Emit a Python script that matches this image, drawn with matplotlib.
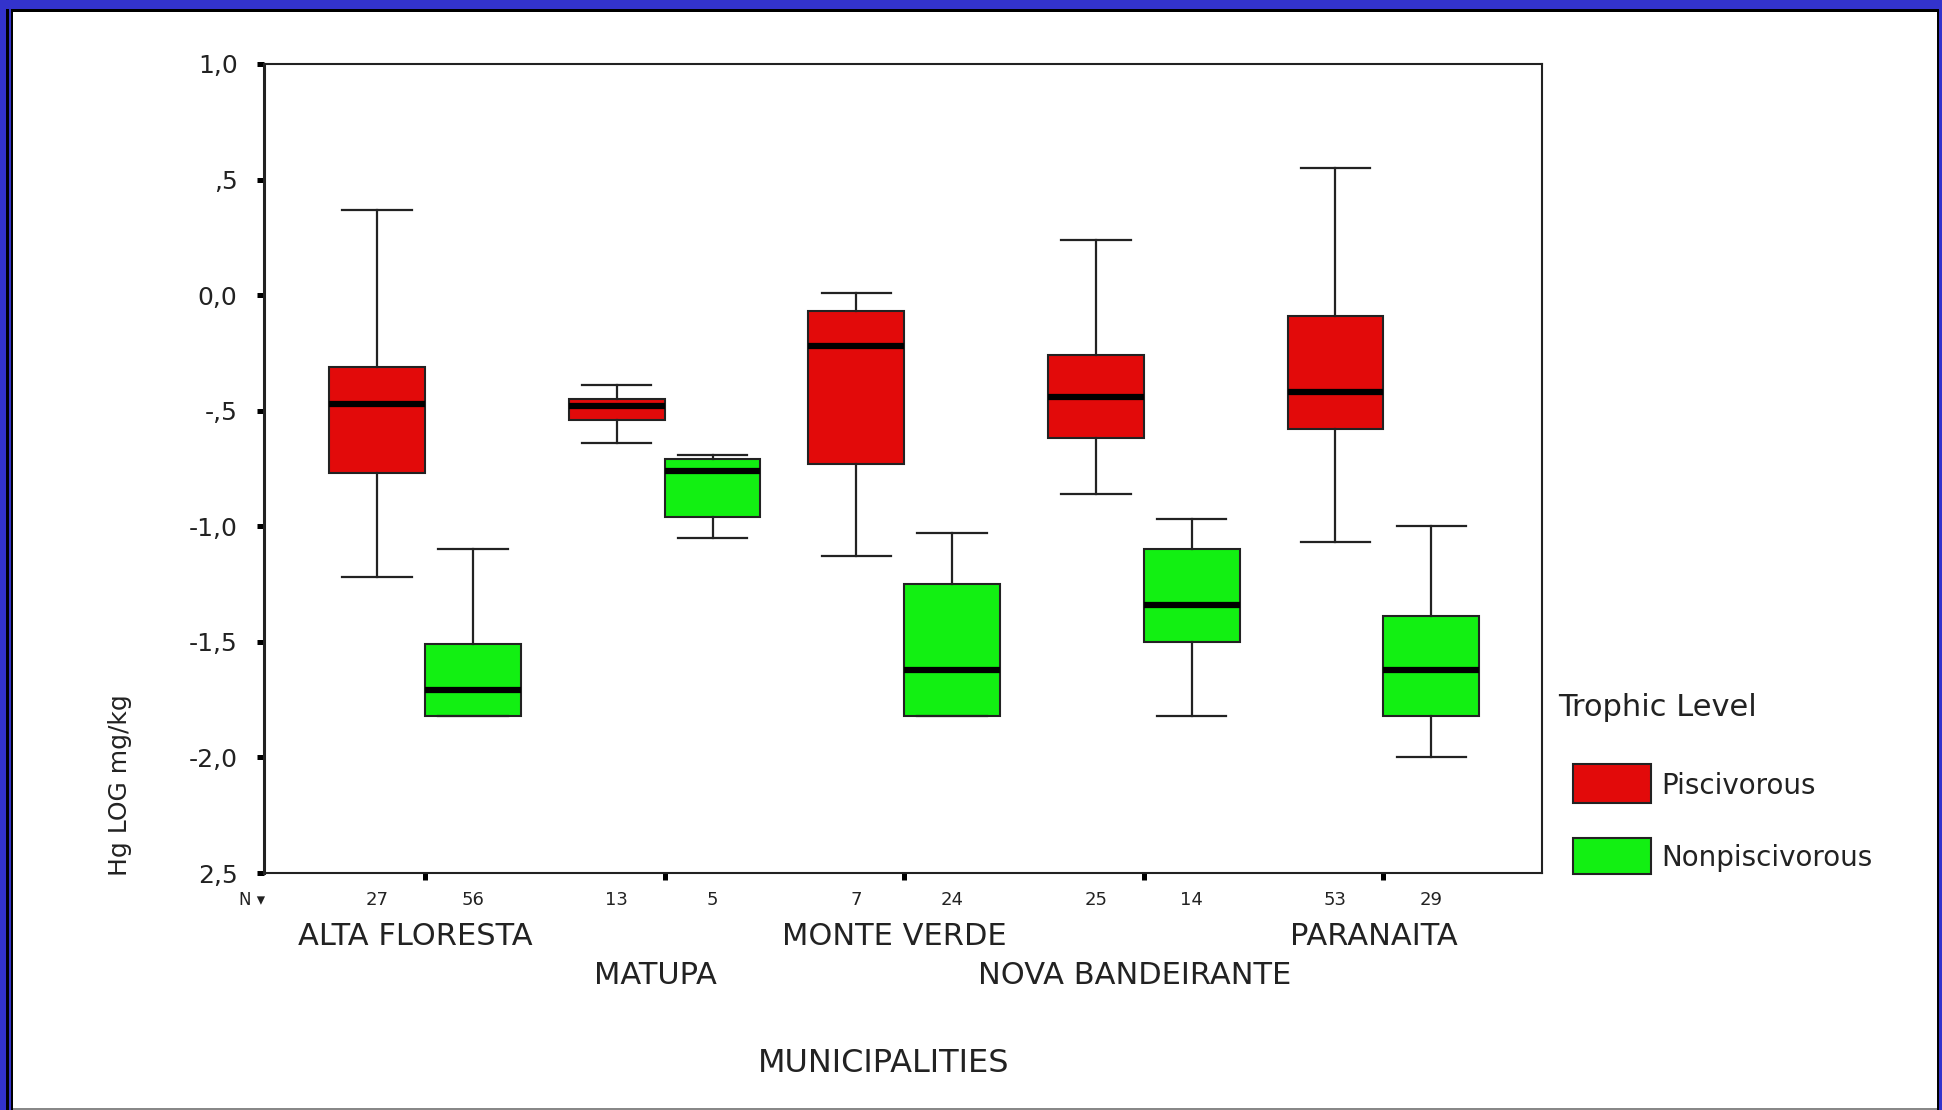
import matplotlib
matplotlib.use("Agg")
import matplotlib.pyplot as plt
import matplotlib.ticker as ticker
from matplotlib.patches import Rectangle

# data (box plot summaries, log10 Hg mg/kg)
municipalities = ["ALTA FLORESTA", "MATUPA", "MONTE VERDE", "NOVA BANDEIRANTE", "PARANAITA"]
groups = ["Piscivorous", "Nonpiscivorous"]

pisc_whislo = [-1.22, -0.64, -1.13, -0.86, -1.07]
pisc_q1 = [-0.77, -0.54, -0.73, -0.62, -0.58]
pisc_med = [-0.47, -0.48, -0.22, -0.44, -0.42]
pisc_q3 = [-0.31, -0.45, -0.07, -0.26, -0.09]
pisc_whishi = [0.37, -0.39, 0.01, 0.24, 0.55]
pisc_n = [27, 13, 7, 25, 53]

nonp_whislo = [-1.82, -1.05, -1.82, -1.82, -2.00]
nonp_q1 = [-1.82, -0.96, -1.82, -1.50, -1.82]
nonp_med = [-1.71, -0.76, -1.62, -1.34, -1.62]
nonp_q3 = [-1.51, -0.71, -1.25, -1.10, -1.39]
nonp_whishi = [-1.10, -0.69, -1.03, -0.97, -1.00]
nonp_n = [56, 5, 24, 14, 29]

ytick_vals = [1.0, 0.5, 0.0, -0.5, -1.0, -1.5, -2.0, -2.5]
ytick_labels = ["1,0", ",5", "0,0", "-,5", "-1,0", "-1,5", "-2,0", "2,5"]

red = "#e20a0a"
green = "#12f012"
txt = "#222222"

W, H = 1942, 1110
fig = plt.figure(figsize=(W / 100, H / 100), dpi=100)
fig.patch.set_facecolor("white")

def px(x, y):
    return x / W, 1 - y / H

# frame around the picture
fig.patches.append(Rectangle((0, 0), 1, 1, transform=fig.transFigure, fc="#3333cc", ec="none", zorder=-10))
fig.patches.append(Rectangle(px(6, 1110), (1937 - 6) / W, (1110 - 9) / H, transform=fig.transFigure,
                             fc="black", ec="none", zorder=-9))
fig.patches.append(Rectangle(px(9, 1110), (1937 - 9) / W, (1110 - 9) / H, transform=fig.transFigure,
                             fc="#3333cc", ec="none", zorder=-8))
fig.patches.append(Rectangle(px(11, 1110), (1939 - 11) / W, (1110 - 9) / H, transform=fig.transFigure,
                             fc="black", ec="none", zorder=-7))
fig.patches.append(Rectangle(px(13, 1108), (1937 - 13) / W, (1108 - 12) / H, transform=fig.transFigure,
                             fc="white", ec="none", zorder=-6))
fig.patches.append(Rectangle(px(13, 1110), (1937 - 13) / W, 2 / H, transform=fig.transFigure,
                             fc="#888888", ec="none", zorder=-5))

ax = fig.add_axes([264 / W, 1 - 873 / H, (1542 - 264) / W, (873 - 64) / H])
ax.set_facecolor("white")

def stats(lo, q1, med, q3, hi):
    return [dict(whislo=a, q1=b, med=c, q3=d, whishi=e, fliers=[])
            for a, b, c, d, e in zip(lo, q1, med, q3, hi)]

pos = list(range(len(municipalities)))
for st, off, col in [(stats(pisc_whislo, pisc_q1, pisc_med, pisc_q3, pisc_whishi), -0.2, red),
                     (stats(nonp_whislo, nonp_q1, nonp_med, nonp_q3, nonp_whishi), 0.2, green)]:
    ax.bxp(st, positions=[p + off for p in pos], widths=0.4, patch_artist=True,
           showfliers=False, manage_ticks=False,
           boxprops=dict(facecolor=col, edgecolor=txt, linewidth=1.5),
           medianprops=dict(color="black", linewidth=4.5, solid_capstyle="butt"),
           whiskerprops=dict(color=txt, linewidth=1.6),
           capprops=dict(color=txt, linewidth=1.6),
           capwidths=0.29)

ax.set_xlim(-0.672, 4.662)
ax.set_ylim(-2.5, 1.0)

ax.yaxis.set_major_locator(ticker.FixedLocator(ytick_vals))
ax.yaxis.set_major_formatter(ticker.FixedFormatter(ytick_labels))
ax.tick_params(axis="y", direction="out", length=5, width=3.6, color="black",
               labelsize=18, labelcolor=txt, pad=14)
ax.xaxis.set_major_locator(ticker.FixedLocator(pos))
ax.xaxis.set_major_formatter(ticker.NullFormatter())
ax.tick_params(axis="x", direction="out", length=5, width=3.6, color="black")

for side, sp in ax.spines.items():
    sp.set_color(txt)
    sp.set_linewidth(1.5)
ax.spines["left"].set_linewidth(2.2)

# N counts and municipality names under the axis
tr = ax.get_xaxis_transform()
ax.text(-0.72, -0.0334, "N \u25be", transform=tr, ha="center", va="center", fontsize=12, color=txt)
for i in pos:
    ax.text(i - 0.2, -0.0334, str(pisc_n[i]), transform=tr, ha="center", va="center", fontsize=13, color=txt)
    ax.text(i + 0.2, -0.0334, str(nonp_n[i]), transform=tr, ha="center", va="center", fontsize=13, color=txt)
    row_y = -0.0779 if i % 2 == 0 else -0.127
    ax.text(i - 0.04, row_y, municipalities[i], transform=tr, ha="center", va="center",
            fontsize=22, color=txt, clip_on=False)

fig.text(*px(884, 1064), "MUNICIPALITIES", ha="center", va="center", fontsize=23, color=txt)
fig.text(*px(120, 876), "Hg LOG mg/kg", ha="center", va="bottom", rotation=90, fontsize=18, color=txt)

# legend
fig.text(*px(1558, 708), "Trophic Level", ha="left", va="center", fontsize=22, color=txt)
for (y0, y1, col, lab) in [(764, 803, red, groups[0]), (838, 874, green, groups[1])]:
    fig.patches.append(Rectangle(px(1573, y1), (1651 - 1573) / W, (y1 - y0) / H, transform=fig.transFigure,
                                 fc=col, ec=txt, lw=1.5))
    fig.text(*px(1661, (y0 + y1) / 2 + 2), lab, ha="left", va="center", fontsize=20, color=txt)

fig.savefig("out.png", dpi=100, facecolor=fig.get_facecolor())
